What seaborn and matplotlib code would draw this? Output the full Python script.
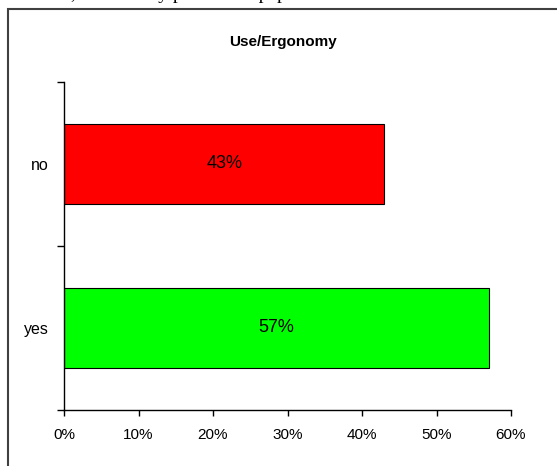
import numpy as np
import pandas as pd
import matplotlib.pyplot as plt
from matplotlib.patches import Rectangle
from matplotlib.ticker import FixedLocator
import seaborn as sns

# chart data
answers = ['no', 'yes']
shares = [43, 57]
bar_colors = ['#ff0000', '#00ff00']
x_ticks = [0, 10, 20, 30, 40, 50, 60]
title = 'Use/Ergonomy'
page_text = 'formation, which only provides a paper version of the'


def bar_plot(df):
    sns.set_style('white')
    plt.rcParams['font.family'] = ['Liberation Sans', 'DejaVu Sans']
    plt.rcParams['text.color'] = 'black'
    plt.rcParams['xtick.color'] = 'black'
    plt.rcParams['ytick.color'] = 'black'

    fig = plt.figure(figsize=(5.57, 4.66), dpi=100)
    ax = fig.add_axes([64 / 557, 56 / 466, 447 / 557, 328 / 466])

    sns.barplot(data=df, x='share', y='answer', hue='answer', palette=bar_colors,
                order=answers, orient='h', width=0.49, edgecolor='black', saturation=1,
                linewidth=0.8, legend=False, ax=ax)

    ax.set_xlim(0, 60)
    ax.set_ylim(1.5, -0.5)
    ax.set_xticks(x_ticks)
    ax.set_xticklabels([str(t) + '%' for t in x_ticks], fontsize=11)
    ax.tick_params(axis='x', bottom=True, direction='out', length=4, width=1, color='black', pad=9)

    # ticks between categories, labels at the category centres
    ax.yaxis.set_major_locator(FixedLocator([-0.5, 0.5, 1.5]))
    ax.yaxis.set_minor_locator(FixedLocator(range(len(answers))))
    ax.set_yticklabels([], minor=False)
    ax.set_yticklabels(answers, minor=True, fontsize=11.5)
    ax.tick_params(axis='y', which='major', left=True, direction='out', length=5, width=1, color='black')
    ax.tick_params(axis='y', which='minor', left=True, length=0, pad=11)
    ax.set_xlabel('')
    ax.set_ylabel('')

    for side in ['top', 'right']:
        ax.spines[side].set_visible(False)
    for side in ['left', 'bottom']:
        ax.spines[side].set_color('black')
        ax.spines[side].set_linewidth(1)

    for i, v in enumerate(df['share']):
        ax.text(v / 2, i, str(v) + '%', ha='center', va='center', fontsize=13, color='black')

    fig.text(283 / 557, 1 - 42 / 466, title, ha='center', va='center', fontsize=11,
             fontweight='bold', color='black')

    # outer chart frame and the cut off line of the page above it
    fig.patches.append(Rectangle((8 / 557, -0.2), 1.2, 1 - 9 / 466 + 0.2, transform=fig.transFigure,
                                 fill=False, lw=1.5, ec='#404040'))
    fig.text(-6 / 557, 1 + 1 / 466, page_text, ha='left', va='baseline', fontsize=14,
             family='Liberation Serif', color='black')

    plt.savefig('out.png', dpi=100)


if __name__ == '__main__':
    data_frame = pd.DataFrame({'answer': answers, 'share': shares})
    bar_plot(data_frame)
